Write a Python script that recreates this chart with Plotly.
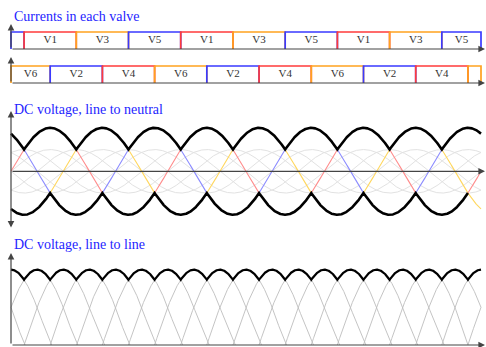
import numpy as np
import plotly.graph_objects as go

W, H = 486, 347

# Electrical angle in degrees (three mains cycles)
ANGLE_MAX = 1080
angle = np.linspace(0, ANGLE_MAX, 2161)

phase_names = ["A", "B", "C"]
phase_shift_deg = [0, 120, 240]
valve_colour = {"A": "#ff3b3b", "B": "#ffa21f", "C": "#3a3aff"}
wave_colour = {"A": "#ff8c8c", "B": "#ffd75e", "C": "#8c8cff"}

# Conduction intervals of the upper (odd) valves
upper_edges = [0, 30, 150, 270, 390, 510, 630, 750, 870, 990, 1080]
upper_phase = ["C", "A", "B", "C", "A", "B", "C", "A", "B", "C"]
upper_label = ["", "V1", "V3", "V5", "V1", "V3", "V5", "V1", "V3", "V5"]

# Conduction intervals of the lower (even) valves
lower_edges = [0, 90, 210, 330, 450, 570, 690, 810, 930, 1050, 1080]
lower_phase = ["B", "C", "A", "B", "C", "A", "B", "C", "A", "B"]
lower_label = ["V6", "V2", "V4", "V6", "V2", "V4", "V6", "V2", "V4", ""]

gray_ratio = 0.5          # helper curves in the line-to-neutral panel
lower_envelope_end = 1050  # negative rail drawn up to here

titles = ["Currents in each valve", "DC voltage, line to neutral", "DC voltage, line to line"]

# ---------------------------------------------------------------- layout maths
PX_X0 = 11
PX_PER_DEG = 470 / 1080
x_range = [-PX_X0 / PX_PER_DEG, (W - PX_X0) / PX_PER_DEG]
x_arrow_end = (485 - PX_X0) / PX_PER_DEG


def dom(top_px, bot_px):
    return [(H - bot_px) / H, (H - top_px) / H]


# panel 1: valve rows
p1_zero, p1_unit = 83.0, 34.0
p1_top, p1_bot = 18, 92
box_h = 0.5
# panel 2: line-to-neutral
p2_zero, unit = 171.3, 43.5
p2_top, p2_bot = 100, 236
# panel 3: line-to-line
p3_zero = 345.0
p3_top, p3_bot = 248, 345

phase = {n: np.sin(np.radians(angle - s)) for n, s in zip(phase_names, phase_shift_deg)}
stack = np.vstack([phase[n] for n in phase_names])

fig = go.Figure()

# ---------------------------------------------------------------- panel 1
def add_boxes(edges, phases, labels, base):
    for i, p in enumerate(phases):
        x0, x1 = edges[i], edges[i + 1]
        fig.add_trace(go.Scatter(
            x=[x0, x0, x1, x1], y=[base, base + box_h, base + box_h, base],
            mode="lines", line=dict(color=valve_colour[p], width=1.7),
            xaxis="x", yaxis="y", hoverinfo="skip", showlegend=False))
    mids = [(edges[i] + edges[i + 1]) / 2 for i in range(len(labels))]
    fig.add_trace(go.Scatter(
        x=mids, y=[base + box_h / 2] * len(labels), text=labels, mode="text",
        textfont=dict(family="Liberation Serif", size=11, color="#333333"),
        xaxis="x", yaxis="y", hoverinfo="skip", showlegend=False))


add_boxes(upper_edges, upper_phase, upper_label, 1.0)
add_boxes(lower_edges, lower_phase, lower_label, 0.0)

# ---------------------------------------------------------------- panel 2
for n in phase_names:
    for sgn in (1, -1):
        fig.add_trace(go.Scatter(
            x=angle, y=sgn * gray_ratio * phase[n], mode="lines",
            line=dict(color="#e2e2e2", width=1),
            xaxis="x2", yaxis="y2", hoverinfo="skip", showlegend=False))

# middle phase (the one not conducting) in its own colour
med_idx = np.argsort(stack, axis=0)[1]
change = np.flatnonzero(np.diff(med_idx)) + 1
starts = np.r_[0, change]
ends = np.r_[change, len(angle)]
for s, e in zip(starts, ends):
    n = phase_names[med_idx[s]]
    sl = slice(max(s - 1, 0), min(e + 1, len(angle)))
    fig.add_trace(go.Scatter(
        x=angle[sl], y=phase[n][sl], mode="lines",
        line=dict(color=wave_colour[n], width=1.1),
        xaxis="x2", yaxis="y2", hoverinfo="skip", showlegend=False))

# beyond the end of the negative rail, show the lowest phase itself
tail = angle >= lower_envelope_end
min_idx = np.argmin(stack[:, tail], axis=0)
n_tail = phase_names[min_idx[-1]]
fig.add_trace(go.Scatter(
    x=angle[tail], y=phase[n_tail][tail], mode="lines",
    line=dict(color=wave_colour[n_tail], width=1.1),
    xaxis="x2", yaxis="y2", hoverinfo="skip", showlegend=False))

fig.add_trace(go.Scatter(
    x=angle, y=stack.max(axis=0), mode="lines",
    line=dict(color="black", width=2.6),
    xaxis="x2", yaxis="y2", hoverinfo="skip", showlegend=False))
keep = angle <= lower_envelope_end
fig.add_trace(go.Scatter(
    x=angle[keep], y=stack.min(axis=0)[keep], mode="lines",
    line=dict(color="black", width=2.6),
    xaxis="x2", yaxis="y2", hoverinfo="skip", showlegend=False))

# ---------------------------------------------------------------- panel 3
pairs = [("A", "B"), ("A", "C"), ("B", "C"), ("B", "A"), ("C", "A"), ("C", "B")]
ll = []
for a, b in pairs:
    v = phase[a] - phase[b]
    ll.append(v)
    fig.add_trace(go.Scatter(
        x=angle, y=v, mode="lines", line=dict(color="#bdbdbd", width=0.9),
        xaxis="x3", yaxis="y3", hoverinfo="skip", showlegend=False))
fig.add_trace(go.Scatter(
    x=angle, y=np.max(ll, axis=0), mode="lines",
    line=dict(color="black", width=2.2),
    xaxis="x3", yaxis="y3", hoverinfo="skip", showlegend=False))

# ---------------------------------------------------------------- axes
hidden = dict(visible=False, showgrid=False, zeroline=False, fixedrange=True)
fig.update_layout(
    width=W, height=H, autosize=False,
    margin=dict(l=0, r=0, t=0, b=0),
    paper_bgcolor="white", plot_bgcolor="rgba(0,0,0,0)",
    xaxis=dict(domain=[0, 1], range=x_range, anchor="y", **hidden),
    xaxis2=dict(domain=[0, 1], range=x_range, anchor="y2", **hidden),
    xaxis3=dict(domain=[0, 1], range=x_range, anchor="y3", **hidden),
    yaxis=dict(domain=dom(p1_top, p1_bot),
               range=[(p1_zero - p1_bot) / p1_unit, (p1_zero - p1_top) / p1_unit],
               anchor="x", **hidden),
    yaxis2=dict(domain=dom(p2_top, p2_bot),
                range=[(p2_zero - p2_bot) / unit, (p2_zero - p2_top) / unit],
                anchor="x2", **hidden),
    yaxis3=dict(domain=dom(p3_top, p3_bot),
                range=[0, (p3_zero - p3_top) / unit],
                anchor="x3", **hidden),
)


def arrow(xr, yr, x0, y0, x1, y1, both=False):
    return dict(x=x1, y=y1, ax=x0, ay=y0, xref=xr, yref=yr, axref=xr, ayref=yr,
                text="", showarrow=True, arrowhead=2, arrowsize=1.1,
                arrowwidth=1.2, arrowcolor="#444444",
                arrowside="end+start" if both else "end")


ann = [
    arrow("x", "y", 0, 1.0, x_arrow_end, 1.0),
    arrow("x", "y", 0, 1.0, 0, (p1_zero - 24) / p1_unit),
    arrow("x", "y", 0, 0.0, x_arrow_end, 0.0),
    arrow("x", "y", 0, 0.0, 0, (p1_zero - 57) / p1_unit),
    arrow("x2", "y2", 0, 0.0, x_arrow_end, 0.0),
    arrow("x2", "y2", 0, (p2_zero - 229) / unit, 0, (p2_zero - 111) / unit, both=True),
    arrow("x3", "y3", 0, 0.0, x_arrow_end, 0.0),
    arrow("x3", "y3", 0, 0.0, 0, (p3_zero - 253) / unit),
]
for t, ypx in zip(titles, [16, 109.5, 245]):
    ann.append(dict(text=t, x=12 / W, y=1 - ypx / H, xref="paper", yref="paper",
                    xanchor="left", yanchor="middle", showarrow=False,
                    font=dict(family="Liberation Serif", size=14, color="#2424ff")))
fig.update_layout(annotations=ann)

fig.write_html("out.html")
